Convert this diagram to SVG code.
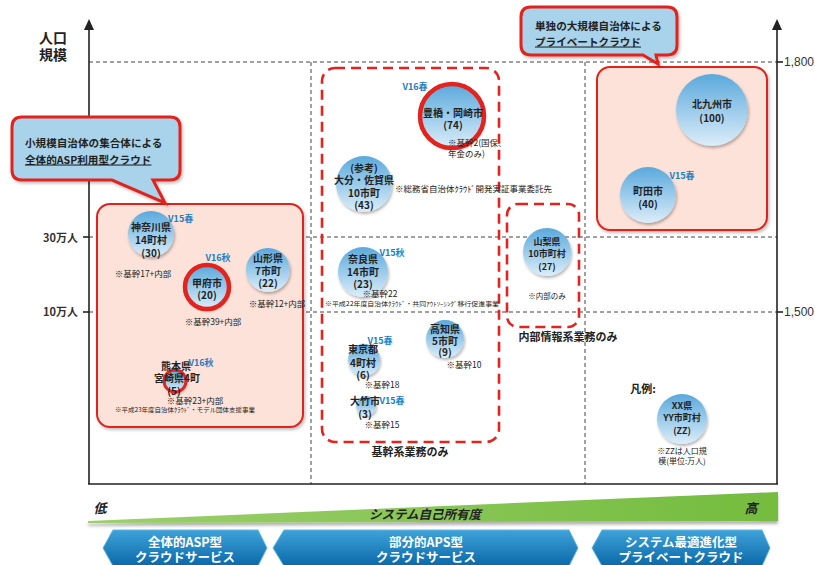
<svg xmlns="http://www.w3.org/2000/svg" width="815" height="565" viewBox="0 0 815 565">
<style>
text{font-family:"Noto Sans CJK JP","Noto Sans",sans-serif;dominant-baseline:central}
.c{text-anchor:middle}
.lbl{font-size:10px;font-weight:bold;fill:#222}
.sm{font-size:9px;font-weight:bold;fill:#222}
.note{font-size:8.5px;fill:#222}
.tiny{font-size:6px;fill:#222}
.ver{font-size:9px;font-weight:bold;fill:#1b7fc4}
.grid{stroke:#444;stroke-width:1;stroke-dasharray:4 3;fill:none}
.axis{stroke:#222;stroke-width:1.6;fill:none}
.bub{fill:url(#cg);filter:url(#sh)}
.ring{fill:none;stroke:#e3231e}
.pink{fill:#fde2d9;stroke:#e3231e;stroke-width:2;filter:url(#sh2)}
.dbox{fill:none;stroke:#e3231e;stroke-width:2.6;stroke-dasharray:10 6}
.call{fill:#a9d3ea;stroke:#e3231e;stroke-width:3;filter:url(#sh2)}
.calltxt{font-size:10.6px;font-weight:bold;fill:#222}
.axl{font-size:11px;font-weight:bold;fill:#333;text-anchor:end}
.axr{font-family:"Liberation Sans",sans-serif;font-size:12px;fill:#333}
.area{font-size:11px;font-weight:bold;fill:#222;text-anchor:middle}
.ban{fill:url(#bg);stroke:#5fb4e3;stroke-width:1}
.bt{font-size:12.5px;font-weight:bold;fill:#fff;text-anchor:middle}
</style>
<defs>
<linearGradient id="cg" x1="0" y1="0" x2="0" y2="1"><stop offset="0" stop-color="#5aa9dc"/><stop offset="1" stop-color="#dcedf9"/></linearGradient>
<linearGradient id="bg" x1="0" y1="0" x2="0" y2="1"><stop offset="0" stop-color="#3fa2d8"/><stop offset="1" stop-color="#0a69aa"/></linearGradient>
<linearGradient id="gg" x1="0" y1="0" x2="1" y2="0"><stop offset="0" stop-color="#9ccf6c"/><stop offset="1" stop-color="#74bc3e"/></linearGradient>
<filter id="sh" x="-30%" y="-30%" width="160%" height="160%"><feDropShadow dx="1" dy="2" stdDeviation="1.5" flood-color="#000" flood-opacity="0.3"/></filter>
<filter id="sh2" x="-10%" y="-10%" width="120%" height="130%"><feDropShadow dx="1.5" dy="2" stdDeviation="1.5" flood-color="#000" flood-opacity="0.25"/></filter>
<filter id="sh3" x="-5%" y="-50%" width="110%" height="250%"><feDropShadow dx="0" dy="3" stdDeviation="1.5" flood-color="#000" flood-opacity="0.3"/></filter>
</defs>

<g id="chart-frame">
<line class="grid" x1="89" y1="62" x2="777" y2="62"/>
<line class="grid" x1="89" y1="237" x2="777" y2="237"/>
<line class="grid" x1="89" y1="312" x2="777" y2="312"/>
<line class="grid" x1="311" y1="62" x2="311" y2="484"/>
<line class="grid" x1="585" y1="62" x2="585" y2="484"/>
<line class="axis" x1="83" y1="237" x2="89" y2="237"/>
<line class="axis" x1="83" y1="312" x2="89" y2="312"/>
<line class="axis" x1="777" y1="62" x2="783" y2="62"/>
<line class="axis" x1="777" y1="312" x2="783" y2="312"/>
<path class="axis" d="M89,484 V28"/>
<path d="M84,30 L89,19 L94,30 Z" fill="#222"/>
<path class="axis" d="M777,484 V28"/>
<path d="M772,30 L777,19 L782,30 Z" fill="#222"/>
<line class="axis" x1="88" y1="484" x2="778" y2="484"/>
<text x="53" y="37" class="c" style="font-size:14px;font-weight:bold;fill:#222">人口</text>
<text x="53" y="54" class="c" style="font-size:14px;font-weight:bold;fill:#222">規模</text>
<text x="78" y="237" class="axl">30万人</text>
<text x="78" y="311" class="axl">10万人</text>
<text x="784" y="62" class="axr">1,800</text>
<text x="784" y="312" class="axr">1,500</text>
</g>

<g id="group-left-box"><rect class="pink" x="97" y="204" width="206" height="223" rx="13"/></g>
<g id="group-mid-box"><rect class="dbox" x="322" y="68" width="177" height="374" rx="13"/>
<text x="410" y="451" class="area">基幹系業務のみ</text></g>
<g id="group-yamanashi-box"><rect class="dbox" x="507" y="204" width="72" height="123" rx="11"/>
<text x="568" y="336" class="area">内部情報系業務のみ</text></g>
<g id="group-right-box"><rect class="pink" x="597" y="67" width="170" height="163" rx="13"/></g>

<g id="callout-left">
<path class="call" d="M22,117 H170 Q180,117 180,127 V170 Q180,180 170,180 H153 L165,203 L112,180 H22 Q12,180 12,170 V127 Q12,117 22,117 Z"/>
<text x="25" y="142" class="calltxt">小規模自治体の集合体による</text>
<text x="25" y="159" class="calltxt" text-decoration="underline">全体的ASP利用型クラウド</text>
</g>
<g id="callout-right">
<path class="call" d="M531,7 H667 Q677,7 677,17 V45 Q677,55 667,55 H656 L658,64 L643,55 H531 Q521,55 521,45 V17 Q521,7 531,7 Z"/>
<text x="535" y="25" class="calltxt">単独の大規模自治体による</text>
<text x="535" y="41" class="calltxt" text-decoration="underline">プライベートクラウド</text>
</g>

<g id="node-kanagawa">
<circle class="bub" cx="151" cy="234" r="23"/>
<text x="151" y="226" class="c lbl">神奈川県</text>
<text x="151" y="239" class="c lbl">14町村</text>
<text x="151" y="252" class="c lbl">(30)</text>
<text x="168" y="218" class="ver">V15春</text>
<text x="143" y="273" class="c note">※基幹17+内部</text>
</g>
<g id="node-kofu">
<circle class="bub" cx="207" cy="287" r="22"/>
<circle class="ring" cx="207" cy="287" r="22" stroke-width="4.5"/>
<text x="207" y="282" class="c lbl">甲府市</text>
<text x="207" y="294" class="c lbl">(20)</text>
<text x="218" y="257" class="c ver">V16秋</text>
<text x="213" y="321" class="c note">※基幹39+内部</text>
</g>
<g id="node-yamagata">
<circle class="bub" cx="268" cy="270" r="22"/>
<text x="268" y="257" class="c lbl">山形県</text>
<text x="268" y="270" class="c lbl">7市町</text>
<text x="268" y="282" class="c lbl">(22)</text>
<text x="277" y="303" class="c note">※基幹12+内部</text>
</g>
<g id="node-kumamoto">
<circle class="bub" cx="175" cy="381" r="11"/>
<circle class="ring" cx="175" cy="381" r="11" stroke-width="3"/>
<text x="176" y="365" class="c lbl">熊本県</text>
<text x="177" y="377" class="c lbl">宮崎県4町</text>
<text x="174" y="390" class="c lbl">(5)</text>
<text x="201" y="362" class="c ver">V16秋</text>
<text x="195" y="400" class="c note">※基幹23+内部</text>
<text x="185" y="409" class="c tiny" textLength="140" lengthAdjust="spacingAndGlyphs">※平成23年度自治体ｸﾗｳﾄﾞ・モデル団体支援事業</text>
</g>

<g id="node-toyohashi">
<circle class="bub" cx="452" cy="116" r="32"/>
<circle class="ring" cx="452" cy="116" r="32" stroke-width="4.5"/>
<text x="453" y="112" class="c lbl">豊橋・岡崎市</text>
<text x="453" y="124" class="c lbl">(74)</text>
<text x="415" y="86" class="c ver">V16春</text>
<text x="448" y="142" class="note">※基幹2(国保、</text>
<text x="448" y="153" class="note">年金のみ)</text>
</g>
<g id="node-oita">
<circle class="bub" cx="364" cy="184" r="28"/>
<text x="364" y="167" class="c lbl">(参考)</text>
<text x="364" y="179" class="c lbl">大分・佐賀県</text>
<text x="364" y="192" class="c lbl">10市町</text>
<text x="364" y="204" class="c lbl">(43)</text>
<text x="395" y="188" class="note" textLength="157" lengthAdjust="spacingAndGlyphs">※総務省自治体ｸﾗｳﾄﾞ開発実証事業委託先</text>
</g>
<g id="node-nara">
<circle class="bub" cx="363" cy="272" r="25"/>
<text x="363" y="258" class="c lbl">奈良県</text>
<text x="363" y="271" class="c lbl">14市町</text>
<text x="363" y="283" class="c lbl">(23)</text>
<text x="392" y="252" class="c ver">V15秋</text>
<text x="380" y="293" class="c note">※基幹22</text>
<text x="412" y="303" class="c tiny" textLength="174" lengthAdjust="spacingAndGlyphs">※平成22年度自治体ｸﾗｳﾄﾞ・共同ｱｳﾄｿｰｼﾝｸﾞ移行促進事業</text>
</g>
<g id="node-tokyo">
<circle class="bub" cx="364" cy="360" r="16"/>
<text x="363" y="348" class="c lbl">東京都</text>
<text x="363" y="362" class="c lbl">4町村</text>
<text x="363" y="374" class="c lbl">(6)</text>
<text x="380" y="340" class="c ver">V15春</text>
<text x="382" y="384" class="c note">※基幹18</text>
</g>
<g id="node-otake">
<circle class="bub" cx="366" cy="406" r="10"/>
<text x="365" y="400" class="c lbl">大竹市</text>
<text x="365" y="413" class="c lbl">(3)</text>
<text x="392" y="400" class="c ver">V15春</text>
<text x="382" y="424" class="c note">※基幹15</text>
</g>
<g id="node-kochi">
<circle class="bub" cx="445" cy="339" r="19"/>
<text x="445" y="328" class="c lbl">高知県</text>
<text x="445" y="340" class="c lbl">5市町</text>
<text x="445" y="351" class="c lbl">(9)</text>
<text x="464" y="364" class="c note">※基幹10</text>
</g>
<g id="node-yamanashi">
<circle class="bub" cx="547" cy="252" r="24"/>
<text x="547" y="241" class="c sm">山梨県</text>
<text x="547" y="253" class="c sm">10市町村</text>
<text x="547" y="266" class="c sm">(27)</text>
<text x="547" y="295" class="c note" style="font-size:7.5px">※内部のみ</text>
</g>
<g id="node-kitakyushu">
<circle class="bub" cx="712" cy="110" r="36"/>
<text x="712" y="103" class="c lbl">北九州市</text>
<text x="712" y="117" class="c lbl">(100)</text>
</g>
<g id="node-machida">
<circle class="bub" cx="648" cy="195" r="28"/>
<text x="648" y="190" class="c lbl">町田市</text>
<text x="648" y="203" class="c lbl">(40)</text>
<text x="682" y="175" class="c ver">V15春</text>
</g>
<g id="legend">
<text x="643" y="388" class="c lbl" style="font-size:11px">凡例:</text>
<circle class="bub" cx="682" cy="419" r="25"/>
<text x="682" y="405" class="c sm">XX県</text>
<text x="682" y="417" class="c sm">YY市町村</text>
<text x="682" y="430" class="c sm">(ZZ)</text>
<text x="682" y="450" class="c note" style="font-size:8px">※ZZは人口規</text>
<text x="682" y="460" class="c note" style="font-size:8px">模(単位:万人)</text>
</g>

<g id="ownership-scale">
<polygon points="88,521 778,492 778,521 88,523" fill="url(#gg)" filter="url(#sh3)"/>
<text x="100" y="507" class="c" style="font-size:13px;font-weight:bold;font-style:italic;fill:#222">低</text>
<text x="751" y="507" class="c" style="font-size:13px;font-weight:bold;font-style:italic;fill:#222">高</text>
<text x="425" y="513" class="c" style="font-size:12.5px;font-weight:bold;font-style:italic;fill:#222">システム自己所有度</text>
</g>

<g id="banner-asp">
<path class="ban" d="M103,548 L113,530 H258 L267,548 L258,566 H113 Z"/>
<text x="185" y="541" class="bt">全体的ASP型</text>
<text x="185" y="556" class="bt">クラウドサービス</text>
</g>
<g id="banner-aps">
<path class="ban" d="M273,548 L284,530 H569 L578,548 L569,566 H284 Z"/>
<text x="426" y="541" class="bt">部分的APS型</text>
<text x="426" y="556" class="bt">クラウドサービス</text>
</g>
<g id="banner-private">
<path class="ban" d="M592,548 L602,530 H762 L770,548 L762,566 H602 Z"/>
<text x="681" y="541" class="bt">システム最適進化型</text>
<text x="681" y="556" class="bt">プライベートクラウド</text>
</g>
</svg>
